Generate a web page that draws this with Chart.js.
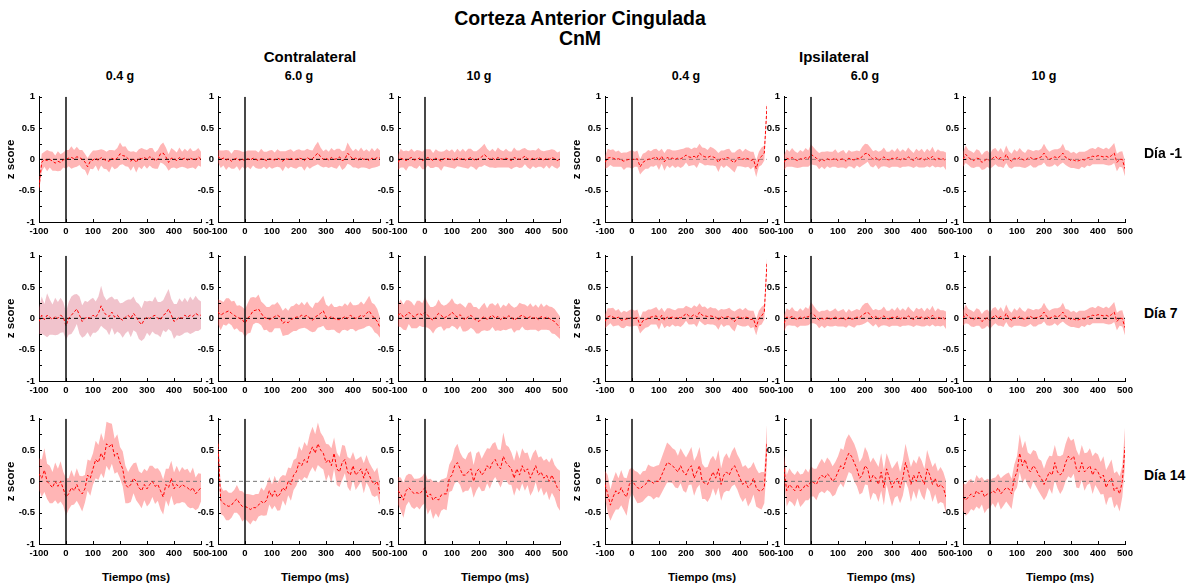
<!DOCTYPE html>
<html>
<head>
<meta charset="utf-8">
<script src="https://cdn.jsdelivr.net/npm/chart.js@4.4.0/dist/chart.umd.min.js"></script>
<style>
  body { margin: 0; background: #fff; font-family: "Liberation Sans", Arial, sans-serif; }
  #lienzo { position: relative; width: 1193px; height: 588px; overflow: hidden; }
  .txt { position: absolute; font-weight: bold; color: #000; text-align: center; white-space: nowrap; }
  .panel { position: absolute; }
</style>
</head>
<body>
<div id="lienzo">
  <div class="txt" style="left:380px;top:8px;width:400px;font-size:19.5px;line-height:20px;">Corteza Anterior Cingulada<br>CnM</div>
  <div class="txt" style="left:210px;top:49px;width:200px;font-size:15px;line-height:16px;">Contralateral</div>
  <div class="txt" style="left:734px;top:49px;width:200px;font-size:15px;line-height:16px;">Ipsilateral</div>
</div>
<script>
// tiempo (ms)
const tiempo = [-100,-90,-80,-70,-60,-50,-40,-30,-20,-10,
  0,10,20,30,40,50,60,70,80,90,
  100,110,120,130,140,150,160,170,180,190,
  200,210,220,230,240,250,260,270,280,290,
  300,310,320,330,340,350,360,370,380,390,
  400,410,420,430,440,450,460,470,480,490,500];

const lados = ['Contralateral', 'Ipsilateral'];
const intensidades = ['0.4 g', '6.0 g', '10 g', '0.4 g', '6.0 g', '10 g'];
const dias = ['Día -1', 'Día 7', 'Día 14'];

// ---- Día -1 ----
const media_c04_d1 = [-0.45,-0.05,0.00,-0.02,0.00,-0.03,-0.06,-0.03,-0.05,-0.01,
  0.00,0.02,0.03,0.01,0.04,0.03,0.00,-0.04,-0.12,-0.03,
  -0.01,0.02,-0.02,0.03,0.00,-0.02,-0.03,0.02,-0.01,0.02,
  0.09,0.06,0.05,0.01,-0.03,0.01,-0.05,0.02,0.01,0.03,
  0.00,0.04,0.02,-0.02,0.00,0.09,0.10,0.04,-0.05,0.02,
  0.01,-0.02,0.03,0.00,0.02,-0.01,0.02,0.00,-0.01,0.04,0.00];
const banda_c04_d1 = [0.08,0.14,0.12,0.17,0.13,0.15,0.12,0.16,0.13,0.12,
  0.15,0.13,0.18,0.14,0.16,0.12,0.15,0.13,0.14,0.12,
  0.15,0.12,0.17,0.13,0.15,0.14,0.18,0.13,0.15,0.16,
  0.18,0.14,0.16,0.13,0.15,0.12,0.16,0.14,0.17,0.13,
  0.15,0.14,0.16,0.13,0.15,0.14,0.17,0.15,0.13,0.16,
  0.14,0.13,0.16,0.12,0.15,0.14,0.16,0.13,0.15,0.14,0.12];

const media_c60_d1 = [0.05,0.00,0.02,-0.01,0.01,-0.03,0.00,0.02,-0.02,0.00,
  -0.02,0.01,-0.01,0.02,0.00,-0.02,0.01,0.00,-0.02,0.01,
  0.00,-0.01,0.02,0.00,-0.03,0.01,0.00,0.02,-0.01,0.00,
  0.02,0.01,-0.02,0.03,0.00,0.01,0.06,0.10,0.04,0.00,
  0.02,-0.01,0.03,0.00,0.01,0.04,-0.02,0.00,0.10,0.05,
  0.00,0.02,-0.01,0.03,0.00,0.01,-0.02,0.02,0.00,0.03,0.02];
const banda_c60_d1 = [0.10,0.14,0.12,0.16,0.13,0.12,0.15,0.13,0.16,0.12,
  0.14,0.13,0.15,0.12,0.14,0.13,0.16,0.12,0.14,0.13,
  0.15,0.12,0.14,0.13,0.16,0.12,0.15,0.14,0.13,0.15,
  0.14,0.13,0.16,0.14,0.15,0.13,0.16,0.18,0.15,0.13,
  0.14,0.13,0.15,0.14,0.16,0.13,0.15,0.14,0.17,0.14,
  0.13,0.15,0.14,0.16,0.13,0.15,0.14,0.16,0.13,0.15,0.12];

const media_c10_d1 = [-0.05,0.02,0.00,-0.02,0.01,0.03,-0.01,0.00,0.02,-0.02,
  0.00,0.03,0.01,-0.02,0.02,0.00,-0.03,0.01,0.02,0.00,
  0.01,-0.02,0.03,0.00,0.02,-0.01,0.01,0.03,0.00,-0.02,
  0.02,0.04,0.08,0.03,0.00,0.02,-0.01,0.03,0.01,0.00,
  0.02,0.00,-0.02,0.03,0.01,0.00,0.02,0.05,0.01,-0.01,
  0.02,0.00,0.03,0.01,-0.01,0.02,0.00,0.03,0.01,-0.02,0.01];
const banda_c10_d1 = [0.12,0.15,0.13,0.16,0.12,0.14,0.13,0.15,0.12,0.14,
  0.16,0.13,0.15,0.12,0.14,0.13,0.15,0.12,0.14,0.13,
  0.15,0.13,0.14,0.12,0.15,0.13,0.16,0.14,0.13,0.15,
  0.14,0.16,0.17,0.14,0.13,0.15,0.13,0.16,0.14,0.13,
  0.15,0.13,0.14,0.16,0.13,0.14,0.15,0.13,0.14,0.15,
  0.13,0.14,0.15,0.13,0.14,0.12,0.15,0.13,0.14,0.13,0.12];

const media_i04_d1 = [-0.05,0.02,0.03,0.02,0.00,0.01,-0.01,-0.03,-0.01,0.00,
  0.00,0.00,0.01,-0.12,-0.05,-0.02,0.00,0.01,0.02,0.04,
  -0.02,0.05,-0.04,0.03,0.01,0.02,0.00,0.02,0.01,0.03,
  0.07,0.04,0.03,0.05,0.02,0.10,0.06,0.04,0.03,0.05,
  0.04,0.02,-0.05,0.02,0.00,0.03,0.02,-0.03,-0.05,0.02,
  0.03,0.00,0.02,0.01,-0.02,0.00,-0.15,0.00,0.05,0.10,0.85];
const banda_i04_d1 = [0.10,0.15,0.12,0.14,0.12,0.13,0.11,0.14,0.12,0.13,
  0.15,0.12,0.13,0.12,0.14,0.13,0.15,0.12,0.14,0.13,
  0.15,0.12,0.14,0.13,0.15,0.12,0.14,0.13,0.15,0.14,
  0.12,0.15,0.13,0.14,0.16,0.15,0.13,0.14,0.12,0.15,
  0.14,0.13,0.15,0.12,0.14,0.13,0.15,0.14,0.16,0.13,
  0.14,0.12,0.15,0.13,0.14,0.12,0.13,0.12,0.14,0.12,0.05];

const media_i60_d1 = [-0.05,0.02,0.00,0.03,0.00,-0.02,0.01,0.00,0.03,0.01,
  0.08,0.05,0.02,-0.03,0.00,-0.02,0.01,-0.01,0.00,0.02,
  -0.02,0.00,0.01,-0.03,0.02,0.00,-0.01,0.02,0.00,0.05,
  0.09,0.10,0.04,0.00,0.03,-0.02,0.01,0.04,0.00,-0.01,
  0.02,0.00,0.03,-0.01,0.02,0.00,0.04,0.01,-0.02,0.03,
  0.00,0.02,-0.01,0.03,0.00,0.05,-0.01,0.02,0.00,0.01,-0.03];
const banda_i60_d1 = [0.12,0.14,0.12,0.15,0.13,0.12,0.14,0.12,0.15,0.13,
  0.16,0.14,0.12,0.13,0.12,0.14,0.12,0.13,0.12,0.14,
  0.12,0.13,0.14,0.12,0.13,0.12,0.14,0.12,0.13,0.15,
  0.16,0.14,0.15,0.13,0.12,0.14,0.13,0.15,0.12,0.13,
  0.14,0.12,0.15,0.13,0.14,0.12,0.15,0.13,0.12,0.14,
  0.13,0.15,0.12,0.14,0.13,0.15,0.12,0.14,0.13,0.12,0.14];

const media_i10_d1 = [0.00,0.08,0.03,0.00,-0.02,0.02,0.01,-0.05,-0.02,0.01,
  -0.03,0.02,0.05,0.00,0.03,-0.02,0.08,0.00,-0.03,0.02,
  0.00,0.03,0.00,-0.02,0.02,0.03,0.00,0.01,0.02,0.04,
  0.10,0.03,0.00,0.02,0.04,0.02,0.05,0.10,0.03,0.01,
  -0.02,-0.01,-0.03,-0.02,0.00,-0.01,0.02,0.03,0.05,0.04,
  0.06,0.05,0.04,0.05,0.03,0.06,0.10,-0.05,0.00,0.00,-0.15];
const banda_i10_d1 = [0.12,0.14,0.12,0.13,0.12,0.14,0.13,0.12,0.14,0.13,
  0.12,0.14,0.13,0.12,0.15,0.12,0.14,0.13,0.12,0.14,
  0.12,0.15,0.13,0.12,0.14,0.12,0.13,0.14,0.12,0.13,
  0.15,0.14,0.12,0.13,0.12,0.14,0.13,0.15,0.12,0.13,
  0.12,0.13,0.12,0.14,0.12,0.13,0.12,0.14,0.13,0.12,
  0.14,0.13,0.12,0.14,0.13,0.15,0.16,0.14,0.12,0.13,0.12];

// ---- Día 7 ----
const media_c04_d7 = [-0.05,0.05,-0.02,0.05,0.02,-0.02,0.03,0.00,0.05,0.02,
  -0.12,0.00,0.05,0.10,0.15,0.05,-0.05,0.00,0.02,0.00,
  0.05,0.02,0.08,0.20,0.10,0.05,0.03,0.10,0.02,0.05,
  0.00,-0.03,0.02,0.05,0.00,0.08,0.02,-0.05,-0.10,-0.02,
  0.02,0.00,0.03,0.05,0.00,-0.02,0.05,0.08,0.15,0.05,
  -0.05,-0.02,0.02,0.00,0.05,0.02,0.05,0.03,0.08,0.05,0.05];
const banda_c04_d7 = [0.22,0.30,0.25,0.35,0.28,0.24,0.30,0.26,0.28,0.24,
  0.22,0.26,0.30,0.28,0.24,0.30,0.26,0.28,0.24,0.30,
  0.28,0.25,0.27,0.32,0.26,0.24,0.30,0.25,0.28,0.26,
  0.24,0.28,0.26,0.25,0.30,0.27,0.24,0.28,0.26,0.30,
  0.25,0.28,0.24,0.30,0.26,0.28,0.24,0.30,0.32,0.26,
  0.28,0.25,0.30,0.26,0.28,0.24,0.30,0.26,0.28,0.25,0.22];

const media_c60_d7 = [0.10,0.05,0.08,0.10,0.12,0.08,0.05,0.02,0.00,-0.02,
  -0.08,0.00,0.05,0.12,0.13,0.15,0.08,0.02,0.00,-0.02,
  0.00,0.03,0.05,0.02,-0.08,-0.05,-0.07,-0.02,0.00,0.02,
  0.02,0.05,0.03,0.05,0.00,-0.03,0.02,0.05,0.08,0.12,
  0.02,0.00,0.03,0.00,-0.02,-0.02,0.00,0.03,0.00,0.05,
  0.02,0.00,0.02,0.05,0.03,0.08,0.12,0.05,0.00,-0.05,-0.15];
const banda_c60_d7 = [0.20,0.24,0.18,0.22,0.20,0.19,0.23,0.18,0.21,0.20,
  0.22,0.24,0.28,0.22,0.20,0.23,0.19,0.21,0.18,0.20,
  0.22,0.19,0.21,0.18,0.20,0.22,0.19,0.21,0.20,0.22,
  0.19,0.21,0.18,0.22,0.20,0.19,0.23,0.20,0.22,0.24,
  0.20,0.19,0.21,0.18,0.20,0.22,0.19,0.21,0.20,0.22,
  0.19,0.21,0.20,0.22,0.19,0.21,0.24,0.20,0.22,0.20,0.16];

const media_c10_d7 = [0.05,0.08,0.02,0.05,0.10,0.05,0.02,0.06,0.08,0.05,
  0.10,0.05,0.00,-0.03,0.02,0.08,0.05,0.00,0.03,0.05,
  0.10,0.05,0.02,0.06,0.00,-0.02,0.03,0.05,0.00,-0.03,
  -0.05,0.00,0.03,-0.02,0.02,0.05,0.00,0.03,-0.02,0.02,
  0.00,0.04,0.02,-0.03,0.00,0.03,0.05,0.02,0.00,0.03,
  0.00,0.02,-0.02,0.03,0.00,0.02,0.00,-0.03,-0.05,-0.10,-0.15];
const banda_c10_d7 = [0.18,0.22,0.20,0.24,0.19,0.21,0.18,0.22,0.20,0.19,
  0.24,0.20,0.18,0.21,0.19,0.22,0.18,0.20,0.19,0.21,
  0.22,0.19,0.20,0.18,0.21,0.19,0.22,0.20,0.18,0.21,
  0.19,0.20,0.22,0.18,0.21,0.19,0.20,0.22,0.18,0.20,
  0.19,0.21,0.18,0.20,0.19,0.22,0.18,0.20,0.19,0.21,
  0.18,0.20,0.19,0.21,0.18,0.20,0.19,0.21,0.20,0.19,0.18];

const media_i04_d7 = [-0.05,0.02,0.04,0.02,0.00,0.02,-0.03,-0.02,-0.01,0.00,
  0.01,0.00,0.01,-0.12,-0.04,-0.02,0.00,0.02,0.03,0.04,
  -0.03,0.05,-0.03,0.02,0.01,0.02,0.00,0.02,0.01,0.03,
  0.08,0.04,0.03,0.06,0.02,0.10,0.05,0.04,0.03,0.04,
  0.03,0.02,-0.03,0.03,0.00,0.02,0.03,-0.02,-0.05,0.02,
  0.02,0.00,0.02,0.01,-0.02,-0.01,-0.14,0.00,0.04,0.10,0.90];
const banda_i04_d7 = [0.11,0.14,0.12,0.15,0.12,0.13,0.12,0.14,0.11,0.13,
  0.14,0.12,0.13,0.12,0.15,0.13,0.14,0.12,0.13,0.14,
  0.15,0.12,0.13,0.14,0.15,0.12,0.13,0.14,0.15,0.13,
  0.12,0.14,0.13,0.15,0.16,0.14,0.13,0.15,0.12,0.14,
  0.13,0.14,0.15,0.12,0.14,0.13,0.14,0.15,0.16,0.12,
  0.14,0.13,0.15,0.12,0.14,0.13,0.13,0.12,0.14,0.12,0.06];

const media_i60_d7 = [-0.08,0.02,0.01,0.03,0.00,-0.02,0.02,0.00,0.03,0.02,
  0.09,0.06,0.02,-0.03,0.00,-0.02,0.01,-0.01,0.00,0.02,
  -0.01,0.00,0.01,-0.03,0.02,-0.01,-0.01,0.02,0.01,0.05,
  0.08,0.10,0.05,0.00,0.03,-0.01,0.01,0.04,0.00,-0.01,
  0.02,0.00,0.03,-0.01,0.02,0.00,0.04,0.01,-0.02,0.03,
  0.01,0.02,-0.01,0.03,0.00,0.05,-0.01,0.02,0.00,0.01,-0.03];
const banda_i60_d7 = [0.13,0.14,0.12,0.15,0.12,0.13,0.14,0.12,0.15,0.13,
  0.17,0.14,0.12,0.13,0.12,0.14,0.13,0.12,0.13,0.14,
  0.12,0.13,0.14,0.12,0.13,0.12,0.14,0.13,0.12,0.15,
  0.16,0.15,0.14,0.13,0.12,0.14,0.13,0.15,0.12,0.13,
  0.14,0.12,0.15,0.13,0.14,0.12,0.15,0.13,0.12,0.14,
  0.13,0.15,0.12,0.14,0.13,0.15,0.12,0.14,0.13,0.12,0.14];

const media_i10_d7 = [0.00,0.07,0.03,0.00,-0.02,0.02,0.01,-0.05,-0.02,0.01,
  -0.04,0.02,0.05,0.00,0.03,-0.02,0.08,0.00,-0.03,0.02,
  0.00,0.03,0.00,-0.02,0.02,0.03,0.00,0.01,0.02,0.04,
  0.10,0.03,0.00,0.02,0.04,0.02,0.05,0.10,0.03,0.01,
  -0.02,-0.01,-0.03,-0.02,0.00,-0.01,0.02,0.03,0.05,0.04,
  0.06,0.05,0.04,0.05,0.03,0.06,0.10,-0.05,0.00,0.00,-0.15];
const banda_i10_d7 = [0.12,0.15,0.12,0.13,0.12,0.14,0.13,0.12,0.14,0.13,
  0.13,0.14,0.13,0.12,0.15,0.12,0.14,0.13,0.12,0.14,
  0.12,0.15,0.13,0.12,0.14,0.12,0.13,0.14,0.12,0.13,
  0.15,0.14,0.12,0.13,0.12,0.14,0.13,0.15,0.12,0.13,
  0.12,0.13,0.12,0.14,0.12,0.13,0.12,0.14,0.13,0.12,
  0.14,0.13,0.12,0.14,0.13,0.15,0.16,0.14,0.12,0.13,0.12];

// ---- Día 14 ----
const media_c04_d14 = [0.12,0.05,0.18,0.00,-0.05,-0.10,0.00,-0.08,0.00,-0.12,
  -0.25,-0.20,-0.10,-0.15,-0.05,-0.15,-0.20,-0.12,0.10,0.05,
  0.20,0.35,0.30,0.45,0.35,0.60,0.55,0.60,0.40,0.45,
  0.30,0.20,-0.05,-0.10,-0.05,0.05,0.00,-0.10,-0.15,-0.05,
  -0.12,-0.05,0.00,-0.08,-0.05,-0.15,-0.25,-0.05,-0.10,0.05,
  -0.12,-0.05,-0.10,-0.05,-0.08,-0.10,-0.15,-0.10,-0.20,-0.15,-0.10];
const banda_c04_d14 = [0.25,0.30,0.35,0.28,0.30,0.25,0.30,0.28,0.32,0.27,
  0.30,0.25,0.28,0.22,0.26,0.24,0.28,0.22,0.25,0.28,
  0.25,0.30,0.28,0.32,0.30,0.35,0.38,0.32,0.28,0.30,
  0.25,0.28,0.30,0.25,0.28,0.24,0.30,0.26,0.28,0.25,
  0.28,0.30,0.25,0.28,0.26,0.30,0.28,0.25,0.30,0.28,
  0.26,0.30,0.25,0.28,0.26,0.30,0.28,0.32,0.26,0.28,0.22];

const media_c60_d14 = [0.60,-0.30,-0.35,-0.38,-0.40,-0.38,-0.32,-0.28,-0.35,-0.40,
  -0.40,-0.42,-0.45,-0.42,-0.42,-0.38,-0.32,-0.35,-0.30,-0.15,
  -0.25,-0.15,-0.25,-0.20,-0.10,-0.15,0.00,-0.05,0.10,0.15,
  0.30,0.25,0.35,0.30,0.45,0.55,0.45,0.60,0.50,0.45,
  0.30,0.35,0.25,0.45,0.20,0.15,0.30,0.35,0.15,0.10,
  0.25,0.10,0.15,0.20,0.05,0.20,0.10,0.00,-0.05,0.00,-0.20];
const banda_c60_d14 = [0.15,0.22,0.20,0.24,0.22,0.20,0.18,0.22,0.20,0.24,
  0.20,0.22,0.24,0.20,0.22,0.18,0.22,0.20,0.24,0.22,
  0.20,0.24,0.22,0.26,0.20,0.24,0.22,0.26,0.24,0.22,
  0.26,0.24,0.28,0.26,0.30,0.32,0.30,0.34,0.28,0.26,
  0.30,0.24,0.28,0.25,0.26,0.24,0.28,0.22,0.24,0.26,
  0.22,0.24,0.22,0.20,0.24,0.22,0.20,0.22,0.20,0.22,0.18];

const media_c10_d14 = [-0.15,-0.20,-0.30,-0.15,-0.10,-0.15,-0.20,-0.18,-0.20,-0.15,
  -0.10,-0.25,-0.20,-0.30,-0.25,-0.30,-0.22,-0.20,-0.20,0.05,
  0.10,0.25,0.30,0.20,0.10,0.10,0.15,0.20,0.00,0.15,
  0.20,0.10,0.15,0.25,0.20,0.30,0.35,0.25,0.20,0.40,
  0.30,0.25,0.20,0.05,0.20,0.10,0.25,0.15,0.20,0.05,
  0.15,0.25,0.10,0.15,0.05,0.10,0.00,0.10,0.00,-0.10,-0.15];
const banda_c10_d14 = [0.22,0.26,0.28,0.24,0.22,0.26,0.24,0.22,0.25,0.23,
  0.25,0.28,0.24,0.30,0.26,0.28,0.25,0.24,0.26,0.22,
  0.25,0.28,0.30,0.26,0.28,0.25,0.30,0.28,0.26,0.30,
  0.28,0.26,0.30,0.28,0.32,0.30,0.28,0.26,0.30,0.38,
  0.28,0.30,0.26,0.28,0.30,0.26,0.28,0.30,0.26,0.28,
  0.30,0.26,0.28,0.25,0.28,0.26,0.30,0.28,0.26,0.30,0.32];

const media_i04_d14 = [-0.05,-0.20,-0.38,-0.25,-0.15,-0.20,-0.10,-0.20,-0.25,-0.05,
  0.02,-0.05,-0.10,-0.12,-0.08,-0.05,0.02,0.00,-0.03,0.00,
  0.00,0.10,0.20,0.30,0.28,0.25,0.20,0.15,0.25,0.15,
  0.10,0.20,0.25,0.05,0.15,0.25,0.00,-0.03,-0.05,0.05,
  0.15,0.05,0.20,-0.05,0.10,0.15,0.10,0.20,0.25,0.15,
  0.05,-0.05,0.00,-0.10,-0.05,0.05,-0.10,-0.15,-0.15,-0.10,0.60];
const banda_i04_d14 = [0.22,0.30,0.25,0.28,0.30,0.25,0.28,0.26,0.30,0.24,
  0.20,0.22,0.25,0.22,0.24,0.22,0.25,0.24,0.26,0.25,
  0.26,0.28,0.30,0.32,0.30,0.28,0.30,0.26,0.28,0.30,
  0.28,0.26,0.30,0.28,0.26,0.30,0.28,0.25,0.28,0.30,
  0.26,0.28,0.30,0.26,0.28,0.30,0.26,0.28,0.30,0.28,
  0.30,0.28,0.26,0.30,0.28,0.26,0.30,0.28,0.30,0.25,0.30];

const media_i60_d14 = [0.20,-0.15,-0.05,-0.10,-0.15,-0.05,-0.15,-0.12,-0.05,-0.08,
  0.00,-0.02,-0.05,0.05,0.10,0.05,0.12,0.08,0.00,0.05,
  0.15,0.25,0.20,0.35,0.45,0.40,0.30,0.20,0.05,0.10,
  0.25,0.20,0.00,0.10,0.05,-0.05,0.15,-0.10,0.20,0.05,
  -0.10,0.00,0.05,-0.10,0.05,0.30,0.15,-0.05,0.10,0.00,
  0.15,0.05,-0.05,0.20,0.10,-0.05,0.05,-0.10,-0.05,-0.10,-0.25];
const banda_i60_d14 = [0.22,0.25,0.26,0.24,0.25,0.22,0.26,0.24,0.25,0.22,
  0.24,0.22,0.25,0.24,0.26,0.24,0.26,0.25,0.24,0.26,
  0.25,0.28,0.30,0.32,0.30,0.28,0.30,0.28,0.26,0.28,
  0.30,0.26,0.30,0.28,0.26,0.28,0.30,0.28,0.25,0.28,
  0.30,0.26,0.28,0.25,0.28,0.30,0.26,0.28,0.25,0.28,
  0.26,0.28,0.25,0.30,0.26,0.28,0.25,0.26,0.28,0.25,0.26];

const media_i10_d14 = [-0.25,-0.30,-0.25,-0.20,-0.25,-0.15,-0.20,-0.15,-0.25,-0.20,
  -0.20,-0.15,-0.18,-0.10,-0.20,-0.15,-0.10,-0.12,-0.20,0.05,
  0.15,0.45,0.25,0.35,0.20,0.15,0.25,0.20,0.10,0.05,
  -0.05,0.05,0.15,0.10,0.30,0.15,0.10,0.15,0.30,0.40,
  0.35,0.40,0.20,0.15,0.30,0.15,0.20,0.25,0.10,0.20,
  0.15,0.05,0.10,-0.10,0.00,0.05,-0.15,-0.10,-0.20,0.00,0.55];
const banda_i10_d14 = [0.22,0.25,0.26,0.24,0.22,0.25,0.24,0.22,0.26,0.24,
  0.22,0.20,0.24,0.22,0.25,0.24,0.22,0.26,0.24,0.22,
  0.25,0.30,0.28,0.30,0.26,0.28,0.25,0.28,0.26,0.28,
  0.25,0.28,0.26,0.30,0.28,0.26,0.30,0.28,0.30,0.32,
  0.30,0.28,0.30,0.26,0.28,0.30,0.26,0.28,0.30,0.26,
  0.28,0.26,0.30,0.28,0.26,0.30,0.28,0.26,0.28,0.25,0.30];

const paneles = [
  [[media_c04_d1, banda_c04_d1], [media_c60_d1, banda_c60_d1], [media_c10_d1, banda_c10_d1],
   [media_i04_d1, banda_i04_d1], [media_i60_d1, banda_i60_d1], [media_i10_d1, banda_i10_d1]],
  [[media_c04_d7, banda_c04_d7], [media_c60_d7, banda_c60_d7], [media_c10_d7, banda_c10_d7],
   [media_i04_d7, banda_i04_d7], [media_i60_d7, banda_i60_d7], [media_i10_d7, banda_i10_d7]],
  [[media_c04_d14, banda_c04_d14], [media_c60_d14, banda_c60_d14], [media_c10_d14, banda_c10_d14],
   [media_i04_d14, banda_i04_d14], [media_i60_d14, banda_i60_d14], [media_i10_d14, banda_i10_d14]]
];

// layout
const colIzq = [39, 218, 398, 605, 784, 963];
const filaSup = [95, 254, 417];
const anchoPlot = 162, altoPlot = 127;
const ejeY = 40, margenSup = 8, margenDer = 14, ejeX = 18;

Chart.defaults.font.family = '"Liberation Sans", Arial, sans-serif';
Chart.defaults.color = '#000';

const marcasInternas = {
  id: 'marcasInternas',
  afterDatasetsDraw(chart) {
    const {ctx, chartArea: a, scales: {x, y}} = chart;
    ctx.save();
    ctx.strokeStyle = '#000';
    ctx.lineWidth = 1;
    ctx.beginPath();
    y.ticks.forEach(t => {
      const py = Math.round(y.getPixelForValue(t.value)) + 0.5;
      ctx.moveTo(a.left, py); ctx.lineTo(a.left + 3, py);
    });
    x.ticks.forEach(t => {
      const px = Math.round(x.getPixelForValue(t.value)) + 0.5;
      ctx.moveTo(px, a.bottom); ctx.lineTo(px, a.bottom - 3);
    });
    ctx.stroke();
    ctx.restore();
  }
};

const lienzo = document.getElementById('lienzo');

function texto(html, left, top, width, size) {
  const d = document.createElement('div');
  d.className = 'txt';
  d.style.left = left + 'px';
  d.style.top = top + 'px';
  d.style.width = width + 'px';
  d.style.fontSize = size + 'px';
  d.style.lineHeight = (size + 2) + 'px';
  d.textContent = html;
  lienzo.appendChild(d);
}

function crearPanel(fila, col, media, banda) {
  const w = ejeY + anchoPlot + margenDer;
  const h = margenSup + altoPlot + ejeX;
  const div = document.createElement('div');
  div.className = 'panel';
  div.style.left = (colIzq[col] - ejeY) + 'px';
  div.style.top = (filaSup[fila] - margenSup) + 'px';
  const cv = document.createElement('canvas');
  cv.width = w; cv.height = h;
  cv.style.width = w + 'px'; cv.style.height = h + 'px';
  div.appendChild(cv);
  lienzo.appendChild(div);

  const colorBanda = (fila === 1 && col === 0) ? 'rgba(215,90,115,0.36)' : 'rgba(255,60,60,0.38)';
  let colorCero = '#000', guiones = [4, 3];
  if (fila === 0 && col >= 3) { colorCero = 'rgba(0,0,0,0.35)'; }
  if (fila === 2) { colorCero = '#777'; }

  new Chart(cv, {
    type: 'line',
    data: {
      datasets: [
        { data: [{x: 0, y: -1}, {x: 0, y: 1}], borderColor: '#1a1a1a', borderWidth: 1.6, pointRadius: 0, fill: false, order: 0 },
        { data: tiempo.map((t, i) => ({x: t, y: media[i]})), borderColor: '#ff0000', borderWidth: 1, borderDash: [3, 2], pointRadius: 0, fill: false, order: 1 },
        { data: [{x: -100, y: 0}, {x: 500, y: 0}], borderColor: colorCero, borderWidth: 1, borderDash: guiones, pointRadius: 0, fill: false, order: 2 },
        { data: tiempo.map((t, i) => ({x: t, y: media[i] + banda[i]})), borderWidth: 0, borderColor: 'rgba(0,0,0,0)', backgroundColor: colorBanda, pointRadius: 0, fill: '+1', order: 3 },
        { data: tiempo.map((t, i) => ({x: t, y: media[i] - banda[i]})), borderWidth: 0, borderColor: 'rgba(0,0,0,0)', pointRadius: 0, fill: false, order: 4 }
      ]
    },
    options: {
      responsive: false,
      animation: false,
      layout: { padding: { top: margenSup, right: margenDer, left: 0, bottom: 0 } },
      plugins: { legend: { display: false }, tooltip: { enabled: false } },
      scales: {
        x: {
          type: 'linear', min: -100, max: 500,
          grid: { display: false, drawTicks: false, tickLength: 0 },
          border: { color: '#000', width: 1 },
          ticks: { stepSize: 100, autoSkip: false, maxRotation: 0, padding: 4, font: { size: 9.5, weight: 'bold' }, color: '#000' },
          afterFit: s => { s.height = ejeX; }
        },
        y: {
          min: -1, max: 1,
          grid: { display: false, drawTicks: false, tickLength: 0 },
          border: { color: '#000', width: 1 },
          ticks: {
            stepSize: 0.25, autoSkip: false, padding: 4,
            font: { size: 9.5, weight: 'bold' }, color: '#000',
            callback: v => (Math.round(v * 4) % 2 === 0) ? String(v) : ''
          },
          title: { display: col === 0 || col === 3, text: 'z score', font: { size: 11.5, weight: 'bold' }, padding: { top: 5, bottom: 0 }, color: '#000' },
          afterFit: s => { s.width = ejeY; }
        }
      }
    },
    plugins: [marcasInternas]
  });
}

paneles.forEach((filaDatos, fila) => {
  filaDatos.forEach(([media, banda], col) => crearPanel(fila, col, media, banda));
});

// encabezados de columna, etiquetas de fila y ejes
intensidades.forEach((txt, col) => texto(txt, colIzq[col] + anchoPlot / 2 - 40, 69, 80, 12.5));
dias.forEach((txt, fila) => {
  const centro = [153, 313, 475][fila];
  const d = document.createElement('div');
  d.className = 'txt';
  d.style.left = '1144px'; d.style.top = (centro - 8) + 'px';
  d.style.fontSize = '14px'; d.style.lineHeight = '16px'; d.style.textAlign = 'left';
  d.textContent = txt;
  lienzo.appendChild(d);
});
colIzq.forEach(x => texto('Tiempo (ms)', x + anchoPlot / 2 + 16 - 50, 571, 100, 11.5));
</script>
</body>
</html>
